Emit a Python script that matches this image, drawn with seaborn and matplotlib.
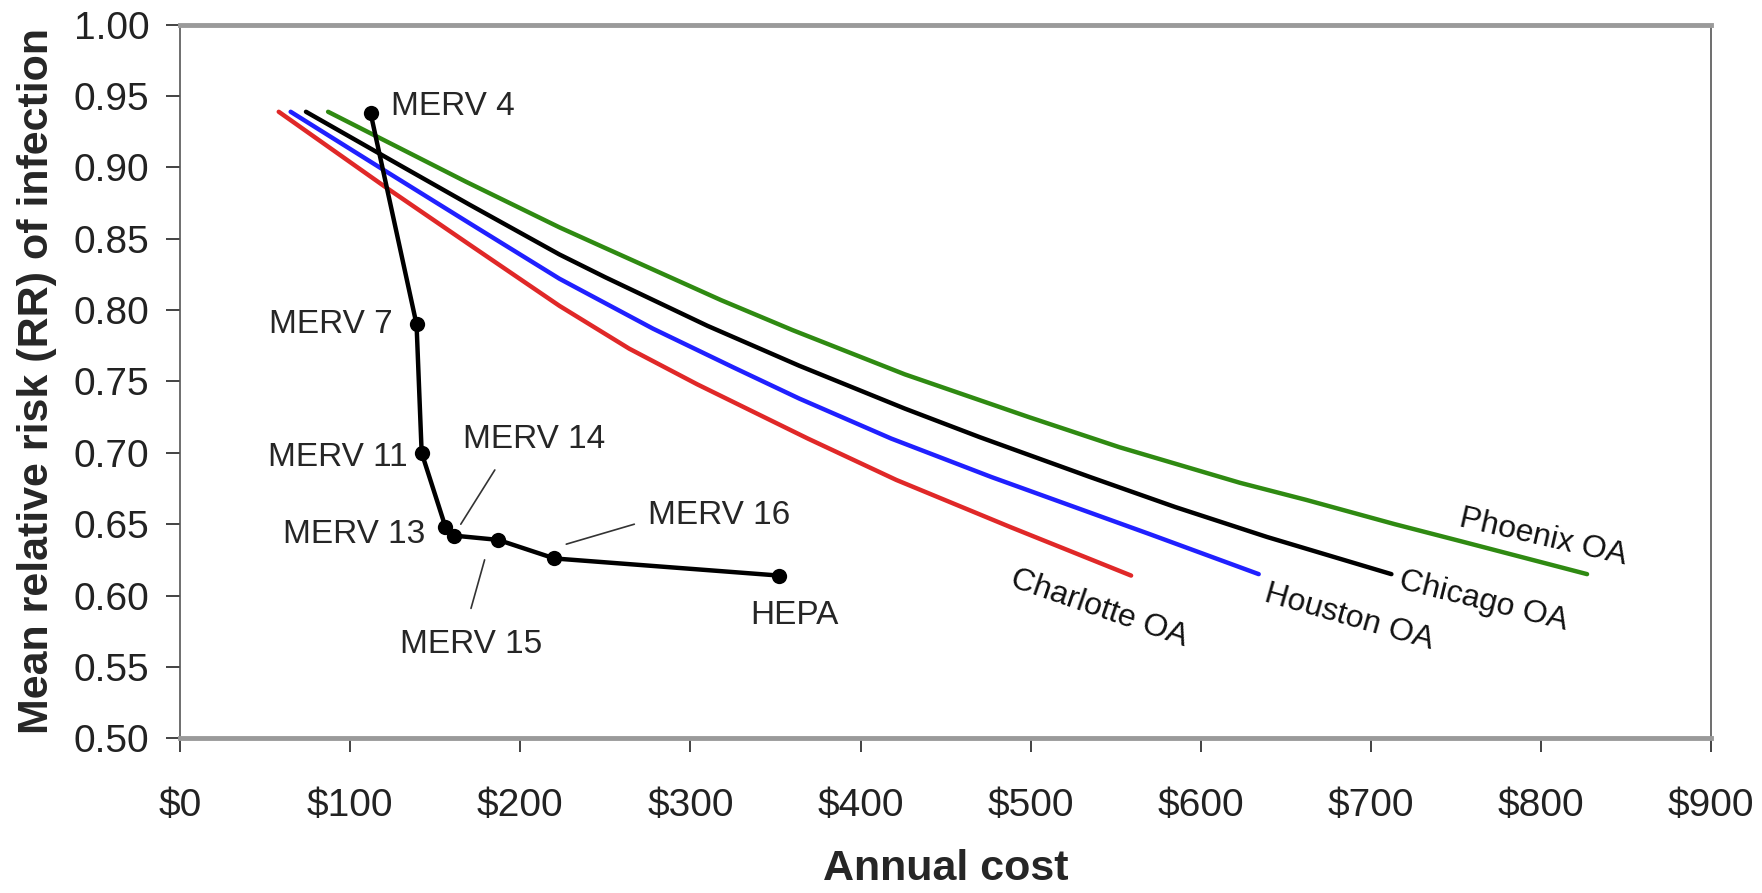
import matplotlib
matplotlib.use("Agg")
import matplotlib.pyplot as plt
import seaborn as sns
import pandas as pd
from matplotlib import font_manager

# ---------------- data ----------------
merv_labels = ["MERV 4", "MERV 7", "MERV 11", "MERV 13", "MERV 14", "MERV 15", "MERV 16", "HEPA"]
merv_cost = [112, 139, 142, 156, 161, 187, 220, 352]
merv_rr = [0.938, 0.790, 0.700, 0.648, 0.642, 0.639, 0.626, 0.614]

charlotte_cost = [58, 121, 170, 223, 264, 304, 369, 421, 488, 559]
charlotte_rr = [0.939, 0.886, 0.846, 0.803, 0.773, 0.748, 0.710, 0.681, 0.648, 0.614]

houston_cost = [65, 120, 170, 223, 278, 325, 364, 418, 477, 570, 634]
houston_rr = [0.939, 0.898, 0.861, 0.822, 0.787, 0.760, 0.738, 0.710, 0.683, 0.643, 0.615]

chicago_cost = [74, 130, 170, 223, 250, 310, 364, 426, 470, 535, 585, 639, 712]
chicago_rr = [0.939, 0.901, 0.874, 0.839, 0.823, 0.789, 0.761, 0.731, 0.711, 0.683, 0.662, 0.641, 0.615]

phoenix_cost = [87, 168, 223, 249, 318, 360, 426, 499, 552, 623, 662, 714, 753, 827]
phoenix_rr = [0.939, 0.890, 0.858, 0.844, 0.807, 0.786, 0.755, 0.725, 0.704, 0.679, 0.667, 0.650, 0.638, 0.615]

curve_names = ["Charlotte OA", "Houston OA", "Chicago OA", "Phoenix OA"]
curve_colors = ["#e02828", "#2020ff", "#000000", "#2f8a12"]

x_ticks = [0, 100, 200, 300, 400, 500, 600, 700, 800, 900]
y_ticks = [0.50, 0.55, 0.60, 0.65, 0.70, 0.75, 0.80, 0.85, 0.90, 0.95, 1.00]

# ---------------- style ----------------
sns.set_theme(style="white")
installed = {f.name for f in font_manager.fontManager.ttflist}
fam = [f for f in ["Liberation Sans Narrow", "Liberation Sans", "DejaVu Sans"] if f in installed]
plt.rcParams["font.family"] = fam

fig = plt.figure(figsize=(17.62, 8.93), dpi=100)
ax = fig.add_axes([0.1022, 0.1733, 0.869, 0.799])

curves = [(charlotte_cost, charlotte_rr), (houston_cost, houston_rr),
          (chicago_cost, chicago_rr), (phoenix_cost, phoenix_rr)]
for (cx, cy), name, col in zip(curves, curve_names, curve_colors):
    df = pd.DataFrame({"cost": cx, "rr": cy})
    sns.lineplot(data=df, x="cost", y="rr", sort=False, color=col, lw=3.2, ax=ax)

mdf = pd.DataFrame({"cost": merv_cost, "rr": merv_rr})
sns.lineplot(data=mdf, x="cost", y="rr", sort=False, color="black", lw=3.2,
             marker="o", markersize=11, markeredgewidth=0, ax=ax)

# curve labels
label_pos = {"Charlotte OA": (540, 0.591, -19), "Houston OA": (687, 0.585, -16),
             "Chicago OA": (766, 0.596, -14), "Phoenix OA": (801, 0.641, -13)}
for name in curve_names:
    x, y, rot = label_pos[name]
    ax.text(x, y, name, rotation=rot, ha="center", va="center", fontsize=23, color="#111111")

# MERV labels
fs = 24
ax.text(124, 0.9425, "MERV 4", ha="left", va="center", fontsize=fs)
ax.text(125, 0.790, "MERV 7", ha="right", va="center", fontsize=fs)
ax.text(134, 0.697, "MERV 11", ha="right", va="center", fontsize=fs)
ax.text(144, 0.643, "MERV 13", ha="right", va="center", fontsize=fs)
ax.text(208, 0.709, "MERV 14", ha="center", va="center", fontsize=fs)
ax.text(317, 0.656, "MERV 16", ha="center", va="center", fontsize=fs)
ax.text(171, 0.566, "MERV 15", ha="center", va="center", fontsize=fs)
ax.text(361, 0.586, "HEPA", ha="center", va="center", fontsize=fs)

# leader lines
ax.plot([185, 165], [0.688, 0.650], color="#333333", lw=1.2)
ax.plot([267, 227], [0.650, 0.636], color="#333333", lw=1.2)
ax.plot([179, 171], [0.625, 0.591], color="#333333", lw=1.2)

ax.set_xlim(0, 900)
ax.set_ylim(0.5, 1.0)
ax.set_xticks(x_ticks)
ax.set_xticklabels([f"${v}" for v in x_ticks])
ax.set_yticks(y_ticks)
ax.set_yticklabels([f"{v:.2f}" for v in y_ticks])
ax.tick_params(axis="both", labelsize=28, colors="#222222", length=10, width=1.2,
               direction="out", left=True, bottom=True)
ax.tick_params(axis="x", pad=26)
ax.tick_params(axis="y", pad=12)
ax.set_xlabel("Annual cost", fontsize=31, fontweight="bold", labelpad=18)
ax.set_ylabel("Mean relative risk (RR) of infection", fontsize=31, fontweight="bold", labelpad=12)

for s in ["left", "right"]:
    ax.spines[s].set_color("#555555")
    ax.spines[s].set_linewidth(1.2)
for s in ["top", "bottom"]:
    ax.spines[s].set_color("#9a9a9a")
    ax.spines[s].set_linewidth(3.5)
    ax.spines[s].set_visible(True)

fig.savefig("out.png", dpi=100)
